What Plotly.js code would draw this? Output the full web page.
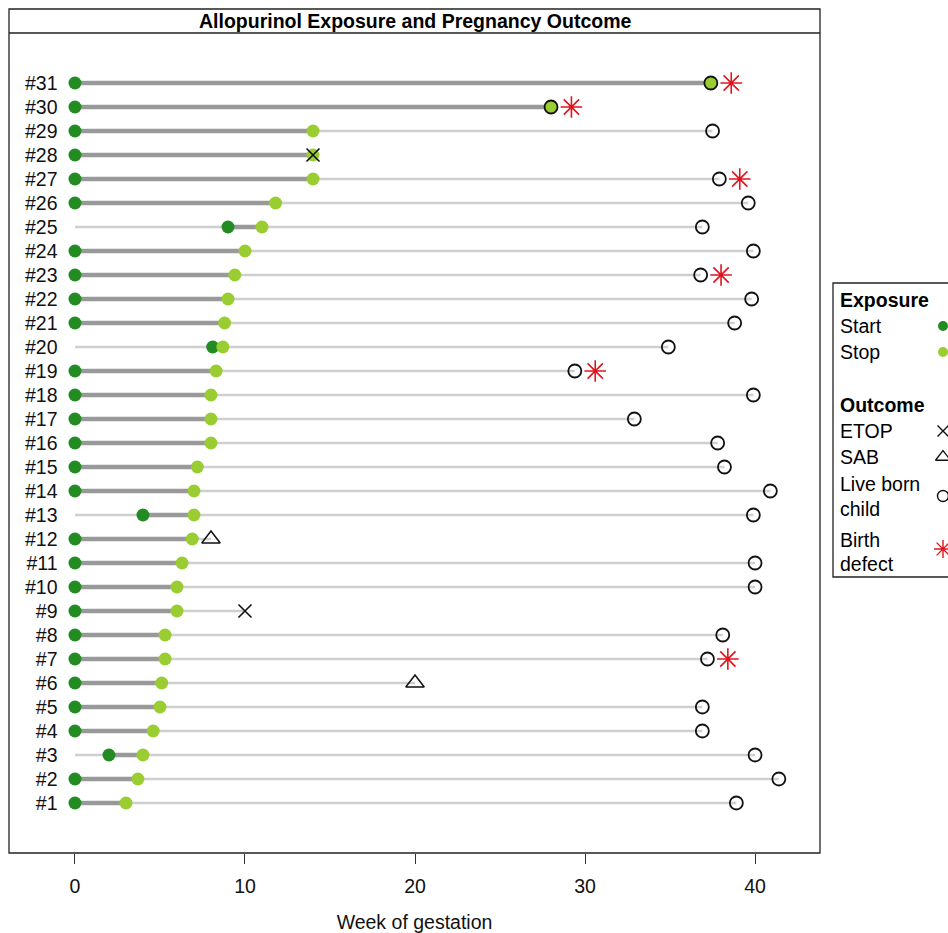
<!DOCTYPE html>
<html>
<head>
<meta charset="utf-8">
<script src="https://cdn.plot.ly/plotly-3.0.1.min.js"></script>
<style>html,body{margin:0;padding:0;background:#fff;}#chart{width:948px;height:933px;}</style>
</head>
<body>
<div id="chart"></div>
<script>
// ---- data (subject #1 .. #31) ----
const subjects   = [1,2,3,4,5,6,7,8,9,10,11,12,13,14,15,16,17,18,19,20,21,22,23,24,25,26,27,28,29,30,31];
const startWeek  = [0,0,2.0,0,0,0,0,0,0,0,0,0,4.0,0,0,0,0,0,0,8.1,0,0,0,0,9.0,0,0,0,0,0,0];
const stopWeek   = [3.0,3.7,4.0,4.6,5.0,5.1,5.3,5.3,6.0,6.0,6.3,6.9,7.0,7.0,7.2,8.0,8.0,8.0,8.3,8.7,8.8,9.0,9.4,10.0,11.0,11.8,14.0,14.0,14.0,28.0,37.4];
const outcomeType= ['live','live','live','live','live','sab','live','live','etop','live','live','sab','live','live','live','live','live','live','live','live','live','live','live','live','live','live','live','etop','live','live','live'];
const outcomeWeek= [38.9,41.4,40.0,36.9,36.9,20.0,37.2,38.1,10.0,40.0,40.0,8.0,39.9,40.9,38.2,37.8,32.9,39.9,29.4,34.9,38.8,39.8,36.8,39.9,36.9,39.6,37.9,14.0,37.5,28.0,37.4];
const defectWeek = [null,null,null,null,null,null,38.4,null,null,null,null,null,null,null,null,null,null,null,30.6,null,null,null,38.0,null,null,null,39.1,null,null,29.2,38.6];
const subjectLabels = subjects.map(s => '#' + s);
const xTickVals = [0,10,20,30,40];

// legend key (text, symbol)
const legendItems = [
  {label:'Start', kind:'start'},
  {label:'Stop', kind:'stop'},
  {label:'ETOP', kind:'etop'},
  {label:'SAB', kind:'sab'},
  {label:'Live born child', kind:'live'},
  {label:'Birth defect', kind:'defect'}
];

const W = 948, H = 933, T = 33, B = 80;
const PH = H - T - B;
const px = v => v / W;
const py = v => 1 - (v - T) / PH;

const FONT = 'Liberation Sans, Arial, sans-serif';
const FS = 19.5;
const START_C = '#228B22', STOP_C = '#9ACD32', DEFECT_C = '#e0141e';

// ---- build traces ----
function segs(x0s, x1s){
  const xs = [], ys = [];
  subjects.forEach((s,i)=>{ xs.push(x0s[i], x1s[i], null); ys.push(s, s, null); });
  return {xs, ys};
}
const thin = segs(subjects.map(()=>0), outcomeWeek);
const thick = segs(startWeek, stopWeek);

function pick(type){
  const xs=[], ys=[];
  subjects.forEach((s,i)=>{ if(outcomeType[i]===type){ xs.push(outcomeWeek[i]); ys.push(s);} });
  return {xs, ys};
}
const live = pick('live'), etop = pick('etop'), sab = pick('sab');
const defX=[], defY=[];
subjects.forEach((s,i)=>{ if(defectWeek[i]!==null){ defX.push(defectWeek[i]); defY.push(s);} });

const base = {type:'scatter', xaxis:'x', yaxis:'y', hoverinfo:'skip', showlegend:false, cliponaxis:false};
const traces = [
  Object.assign({}, base, {x:thin.xs, y:thin.ys, mode:'lines', line:{color:'#cfcfcf', width:2.5}}),
  Object.assign({}, base, {x:thick.xs, y:thick.ys, mode:'lines', line:{color:'#999999', width:4.5}}),
  Object.assign({}, base, {x:startWeek, y:subjects, mode:'markers', marker:{color:START_C, size:13, line:{width:0}}}),
  Object.assign({}, base, {x:stopWeek, y:subjects, mode:'markers', marker:{color:STOP_C, size:13, line:{width:0}}}),
  Object.assign({}, base, {x:live.xs, y:live.ys, mode:'markers', marker:{symbol:'circle-open', color:'#111', size:13, line:{width:1.8, color:'#111'}}}),
  Object.assign({}, base, {x:etop.xs, y:etop.ys, mode:'markers', marker:{symbol:'x-thin-open', color:'#111', size:13, line:{width:1.6, color:'#111'}}}),
  Object.assign({}, base, {x:sab.xs, y:sab.ys, mode:'markers', marker:{symbol:'triangle-up-open', color:'#111', size:16, line:{width:1.5, color:'#111'}}}),
  Object.assign({}, base, {x:defX, y:defY, mode:'markers', marker:{symbol:'asterisk-open', color:DEFECT_C, size:18, line:{width:1.6, color:DEFECT_C}}})
];

// legend key symbols on a small pixel-scaled axis pair
const keyPos = {start:326, stop:352, etop:431, sab:457, live:496, defect:549};
const keyStyle = {
  start:{symbol:'circle', color:START_C, size:10, line:{width:0}},
  stop:{symbol:'circle', color:STOP_C, size:10, line:{width:0}},
  etop:{symbol:'x-thin-open', color:'#111', size:11, line:{width:1.4, color:'#111'}},
  sab:{symbol:'triangle-up-open', color:'#111', size:13, line:{width:1.3, color:'#111'}},
  live:{symbol:'circle-open', color:'#111', size:11, line:{width:1.4, color:'#111'}},
  defect:{symbol:'asterisk-open', color:DEFECT_C, size:15, line:{width:1.4, color:DEFECT_C}}
};
legendItems.forEach(it=>{
  traces.push({type:'scatter', xaxis:'x2', yaxis:'y2', x:[943], y:[keyPos[it.kind]], mode:'markers',
    marker:keyStyle[it.kind], hoverinfo:'skip', showlegend:false, cliponaxis:false});
});

// ---- annotations ----
const ann = [];
ann.push({xref:'paper', yref:'paper', x:px(414.5), y:py(21), text:'<b>Allopurinol Exposure and Pregnancy Outcome</b>',
  showarrow:false, xanchor:'center', yanchor:'middle', font:{family:FONT, size:FS, color:'#000'}});
const legText = [
  ['<b>Exposure</b>',300], ['Start',326], ['Stop',352], ['<b>Outcome</b>',405], ['ETOP',431], ['SAB',457],
  ['Live born',484], ['child',509], ['Birth',540], ['defect',564]
];
legText.forEach(([t,y])=>ann.push({xref:'paper', yref:'paper', x:px(838), y:py(y), text:t, showarrow:false,
  xanchor:'left', yanchor:'middle', font:{family:FONT, size:FS, color:'#000'}}));

// ---- shapes ----
const shapes = [
  {type:'rect', xref:'paper', yref:'paper', x0:px(9), x1:px(820), y0:py(853), y1:py(9), line:{color:'#222', width:1.3}},
  {type:'line', xref:'paper', yref:'paper', x0:px(9), x1:px(820), y0:py(33), y1:py(33), line:{color:'#222', width:1.3}},
  {type:'rect', xref:'paper', yref:'paper', x0:px(833), x1:px(960), y0:py(577), y1:py(283), line:{color:'#222', width:1.3}}
];

const layout = {
  width:W, height:H,
  margin:{l:0, r:0, t:T, b:B},
  paper_bgcolor:'#fff', plot_bgcolor:'rgba(0,0,0,0)',
  showlegend:false,
  xaxis:{domain:[px(9), px(820)], range:[-3.88, 43.82], tickvals:xTickVals, ticks:'outside', ticklen:10,
    tickwidth:1, tickcolor:'#333', showgrid:false, zeroline:false, showline:false,
    tickfont:{family:FONT, size:FS, color:'#111'}, ticklabelstandoff:6,
    title:{text:'Week of gestation', font:{family:FONT, size:FS, color:'#111'}, standoff:19}},
  yaxis:{anchor:'free', position:px(57.5), range:[-1.083, 33.083], tickvals:subjects, ticktext:subjectLabels,
    ticks:'', showgrid:false, zeroline:false, showline:false,
    tickfont:{family:FONT, size:FS, color:'#111'}},
  xaxis2:{domain:[px(833), 1], range:[833, 948], visible:false, anchor:'y2'},
  yaxis2:{domain:[0,1], range:[853, 33], visible:false, anchor:'x2'},
  annotations:ann, shapes:shapes
};

Plotly.newPlot('chart', traces, layout, {displayModeBar:false, staticPlot:true});
</script>
</body>
</html>
